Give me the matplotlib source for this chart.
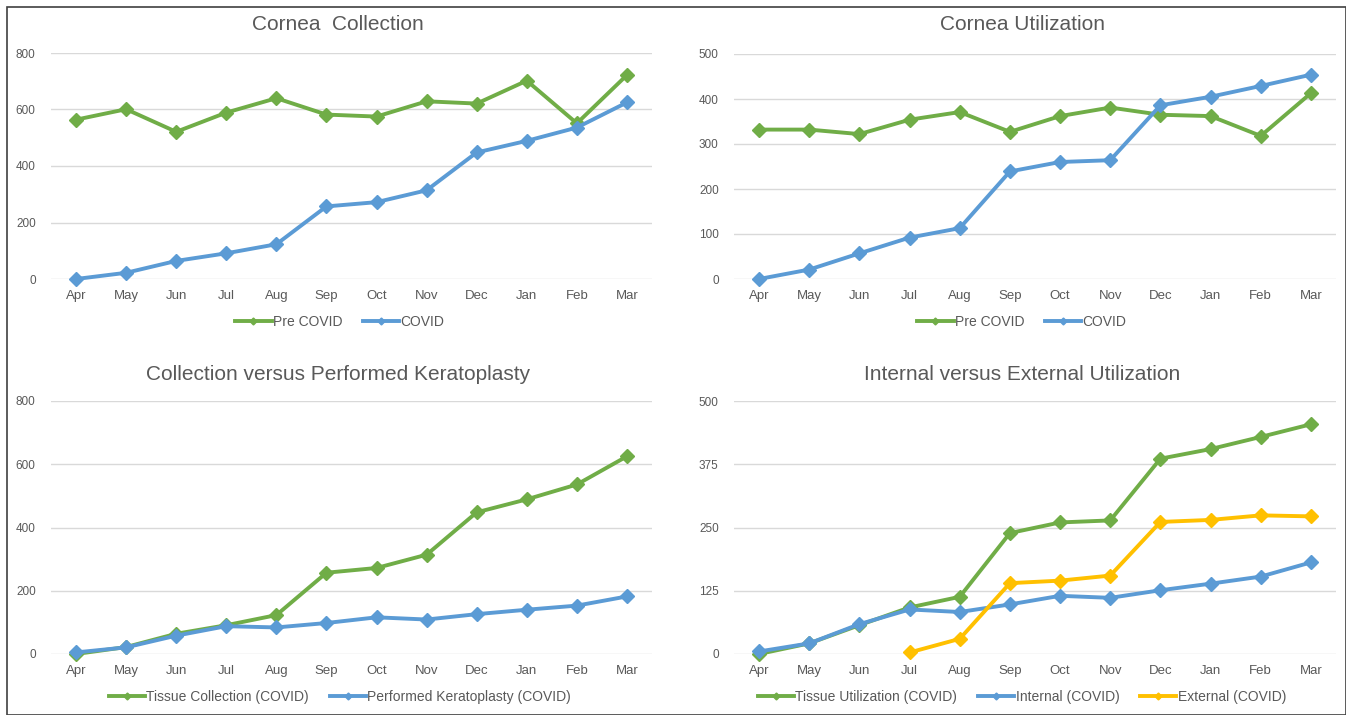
import numpy as np
import matplotlib.pyplot as plt
from matplotlib.patches import Rectangle

plt.rcParams['font.family'] = ['Liberation Sans Narrow', 'Liberation Sans', 'DejaVu Sans']

months = ['Apr', 'May', 'Jun', 'Jul', 'Aug', 'Sep', 'Oct', 'Nov', 'Dec', 'Jan', 'Feb', 'Mar']

# Cornea collection
collection_pre = [564, 601, 521, 589, 640, 582, 575, 629, 621, 702, 551, 722]
collection_covid = [0, 22, 64, 91, 123, 257, 272, 314, 448, 489, 536, 625]

# Cornea utilization
utilization_pre = [332, 332, 322, 354, 371, 327, 362, 381, 365, 362, 318, 413]
utilization_covid = [0, 21, 57, 92, 113, 239, 260, 264, 386, 405, 429, 454]

# Performed keratoplasty
keratoplasty_covid = [5, 21, 58, 88, 84, 98, 116, 109, 126, 140, 153, 182]

# Internal / external utilization
internal_covid = [5, 21, 59, 88, 83, 98, 115, 111, 126, 139, 153, 181]
external_covid = [np.nan, np.nan, np.nan, 3, 30, 140, 145, 155, 261, 265, 274, 272]

GREEN = '#70AD47'
BLUE = '#5B9BD5'
YELLOW = '#FFC000'
TEXT = '#595959'
GRID = '#D9D9D9'

W, H = 1346, 715
fig = plt.figure(figsize=(W / 100, H / 100), dpi=100)

# frame around the whole figure
fig.patches.append(Rectangle((7 / W, 0), 1 - 7 / W, 1 - 7 / H, transform=fig.transFigure,
                             fill=False, edgecolor='#404040', linewidth=1.2))


def make_axes(x0, x1, ytop, ybot):
    return fig.add_axes([x0 / W, (H - ybot) / H, (x1 - x0) / W, (ybot - ytop) / H])


def panel(ax, title, series, ymax, yticks, title_xy, legend_y, legend_cx):
    x = np.arange(len(months))
    handles = []
    for values, label, color in series:
        line, = ax.plot(x, values, color=color, linewidth=2.8, marker='D',
                        markersize=7, label=label, zorder=3, clip_on=False)
        handles.append(line)
    ax.set_xlim(-0.5, len(months) - 0.5)
    ax.set_ylim(0, ymax)
    ax.set_yticks(yticks)
    ax.set_xticks(x)
    ax.set_xticklabels(months)
    ax.tick_params(axis='both', length=0, colors=TEXT, labelsize=9.5)
    ax.tick_params(axis='x', pad=8)
    ax.tick_params(axis='y', pad=11, labelsize=8.5)
    ax.grid(axis='y', color=GRID, linewidth=1)
    ax.set_axisbelow(True)
    for s in ax.spines.values():
        s.set_visible(False)
    fig.text(title_xy[0] / W, 1 - title_xy[1] / H, title, ha='center', va='center',
             fontsize=15, color=TEXT)
    fig.legend(handles=handles, loc='center', bbox_to_anchor=(legend_cx / W, 1 - legend_y / H),
               ncol=len(handles), frameon=False, fontsize=10, markerscale=0.5,
               handlelength=2.6, handletextpad=0.1, columnspacing=1.5, labelcolor=TEXT)


ax1 = make_axes(51, 652, 53, 279)
panel(ax1, 'Cornea  Collection',
      [(collection_pre, 'Pre COVID', GREEN), (collection_covid, 'COVID', BLUE)],
      800, [0, 200, 400, 600, 800], (338, 25), 322, 340)

ax2 = make_axes(734, 1336, 54, 279)
panel(ax2, 'Cornea Utilization',
      [(utilization_pre, 'Pre COVID', GREEN), (utilization_covid, 'COVID', BLUE)],
      500, [0, 100, 200, 300, 400, 500], (1022, 25), 322, 1022)

ax3 = make_axes(51, 652, 401, 654)
panel(ax3, 'Collection versus Performed Keratoplasty',
      [(collection_covid, 'Tissue Collection (COVID)', GREEN),
       (keratoplasty_covid, 'Performed Keratoplasty (COVID)', BLUE)],
      800, [0, 200, 400, 600, 800], (338, 374), 697, 340)

ax4 = make_axes(734, 1336, 401, 654)
panel(ax4, 'Internal versus External Utilization',
      [(utilization_covid, 'Tissue Utilization (COVID)', GREEN),
       (internal_covid, 'Internal (COVID)', BLUE),
       (external_covid, 'External (COVID)', YELLOW)],
      500, [0, 125, 250, 375, 500], (1022, 374), 697, 1022)

fig.savefig('out.png', dpi=100)
